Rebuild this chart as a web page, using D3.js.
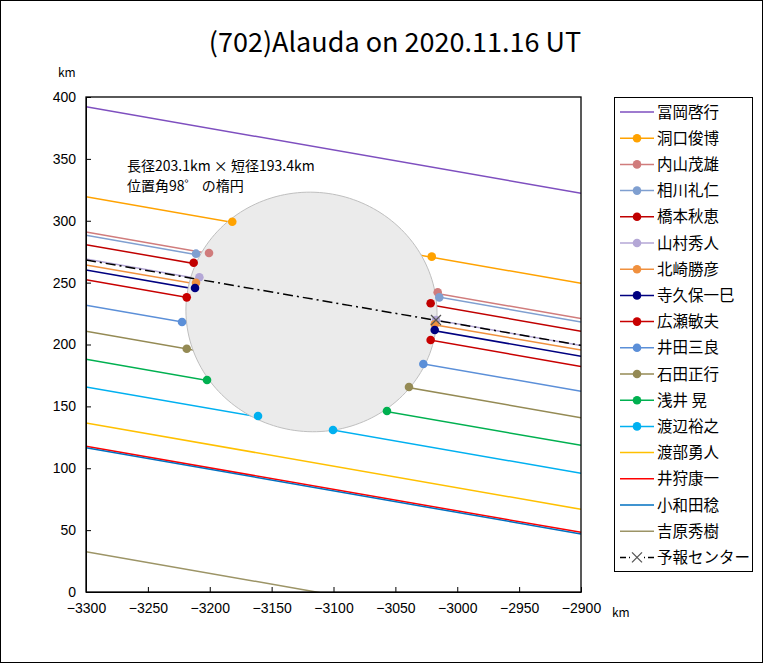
<!DOCTYPE html>
<html><head><meta charset="utf-8">
<script src="https://cdn.jsdelivr.net/npm/d3@7"></script>
<style>
body{margin:0;background:#fff;}
svg{display:block;}
text{font-family:"Noto Sans CJK JP","Noto Sans",sans-serif;fill:#000;}
</style>
</head><body>
<svg id="c" width="763" height="663"></svg>
<script>
// ---- data ----
const title = "(702)Alauda on 2020.11.16 UT";
const xTicks = [-3300,-3250,-3200,-3150,-3100,-3050,-3000,-2950,-2900];
const yTicks = [0,50,100,150,200,250,300,350,400];
const observers = ["冨岡啓行","洞口俊博","内山茂雄","相川礼仁","橋本秋恵","山村秀人","北崎勝彦","寺久保一巳","広瀬敏夫","井田三良","石田正行","浅井 晃","渡辺裕之","渡部勇人","井狩康一","小和田稔","吉原秀樹"];
const colors = ["#7E4FBF","#FFA200","#D07C7C","#7F9FD0","#C00000","#B4A7D6","#F0903E","#000080","#C80000","#5B8FD8","#948A54","#00B050","#00B0F0","#FFC000","#FF0000","#0070C0","#9C9466"];
// chord line y (km) at x = -3300 and at x = -2900
const yAtLeft  = [392.2,319.4,290.9,288.2,280.7,269.1,264.2,260.2,252.4,231.7,210.7,188.0,165.7,136.6,117.7,116.6,32.6];
const yAtRight = [322.2,249.4,220.9,218.2,210.7,199.2,195.6,190.5,182.2,162.2,140.8,118.5,95.9,66.8,48.2,46.9,-37.5];
// disappearance / reappearance points (km), null = miss
const disappear = [null,[-3181.8,299.2],[-3200.6,273.9],[-3211.1,273.4],[-3213.0,266.1],[-3208.4,254.3],[-3211.1,249.9],[-3211.9,245.7],[-3218.6,238.1],[-3222.4,218.2],[-3218.6,196.6],[-3202.2,171.3],[-3161.0,142.2],null,null,null,null];
const reappear  = [null,[-3020.6,271.0],[-3015.8,242.2],[-3014.5,238.1],[-3021.5,233.3],[-3017.2,219.8],[-3018.2,216.3],[-3018.2,211.7],[-3021.5,203.6],[-3027.4,184.2],[-3039.0,165.7],[-3056.8,146.3],[-3100.4,130.9],null,null,null,null];
// prediction centre line
const predName = "予報センター";
const predLine = [[-3300,268.3],[-2900,199.3]];
const predPoint = [-3017.2,219.8];
// fitted ellipse
const ellipseCenter = [-3117.8,226.3];
const majorAxis = 203.1, minorAxis = 193.4, posAngle = 98;
const note1 = "長径203.1km × 短径193.4km";
const note2 = "位置角98゜ の楕円";

// ---- chart ----
const svg = d3.select("#c");
const X0=86, X1=581, Y0=97, Y1=592;
const x = d3.scaleLinear().domain([-3300,-2900]).range([X0,X1]);
const y = d3.scaleLinear().domain([0,400]).range([Y1,Y0]);

svg.append("rect").attr("x",0.5).attr("y",0.5).attr("width",762).attr("height",662)
  .attr("fill","#fff").attr("stroke","#000");

svg.append("text").attr("x",395).attr("y",52).attr("text-anchor","middle")
  .style("font-size","27px").text(title);

svg.append("defs").append("clipPath").attr("id","clip")
  .append("rect").attr("x",X0).attr("y",Y0).attr("width",X1-X0).attr("height",Y1-Y0);

const plot = svg.append("g").attr("clip-path","url(#clip)");
const line = d3.line().x(d=>x(d[0])).y(d=>y(d[1]));

observers.forEach((n,i)=>{
  plot.append("path").datum([[-3300,yAtLeft[i]],[-2900,yAtRight[i]]])
    .attr("d",line).attr("fill","none").attr("stroke",colors[i]).attr("stroke-width",1.5);
});

// ellipse
const a = majorAxis/2, b = minorAxis/2, th = posAngle*Math.PI/180;
const ux = Math.sin(th), uy = Math.cos(th);   // major-axis direction (east, north)
const vx = -uy, vy = ux;
const ep = d3.range(0,361,2).map(t=>{
  const r=t*Math.PI/180, c=Math.cos(r)*a, s=Math.sin(r)*b;
  return [ellipseCenter[0]+c*ux+s*vx, ellipseCenter[1]+c*uy+s*vy];
});
plot.append("path").datum(ep).attr("d",d3.line().x(d=>x(d[0])).y(d=>y(d[1])).curve(d3.curveLinearClosed))
  .attr("fill","#EBEBEB").attr("stroke","#BFBFBF").attr("stroke-width",1);

// prediction line
plot.append("path").datum(predLine).attr("d",line)
  .attr("fill","none").attr("stroke","#000").attr("stroke-width",1.5)
  .attr("stroke-dasharray","10,4,2,4");

// dots
observers.forEach((n,i)=>{
  [disappear[i],reappear[i]].forEach(p=>{
    if(!p) return;
    plot.append("circle").attr("cx",x(p[0])).attr("cy",y(p[1])).attr("r",4.3)
      .attr("fill",colors[i]);
  });
});
// prediction marker
const drawX=(g,cx,cy,s)=>{
  g.append("path").attr("d",`M${cx-s},${cy-s}L${cx+s},${cy+s}M${cx-s},${cy+s}L${cx+s},${cy-s}`)
   .attr("stroke","#555").attr("stroke-width",1.3).attr("fill","none");
};
drawX(plot,x(predPoint[0]),y(predPoint[1]),5);

// axes
const gx = svg.append("g").attr("transform",`translate(0,${Y1})`)
  .call(d3.axisBottom(x).tickValues(xTicks).tickSizeInner(-5).tickSizeOuter(0).tickPadding(11).tickFormat(d3.format("d")));
const gy = svg.append("g").attr("transform",`translate(${X0},0)`)
  .call(d3.axisLeft(y).tickValues(yTicks).tickSizeInner(-5).tickSizeOuter(0).tickPadding(10).tickFormat(d3.format("d")));
[gx,gy].forEach(g=>{
  g.selectAll("text").style("font-size","14px").style("font-family","'Liberation Sans',Arial,sans-serif").attr("fill","#000");
  g.selectAll("line").attr("stroke","#000");
  g.select(".domain").attr("stroke","#000");
});
gx.selectAll("text").text(d=>String(d).replace("-","\u2212"));
// frame
svg.append("rect").attr("x",X0).attr("y",Y0).attr("width",X1-X0).attr("height",Y1-Y0)
  .attr("fill","none").attr("stroke","#000").attr("stroke-width",1.3);

svg.append("text").attr("x",58).attr("y",77).style("font-size","12px").text("km");
svg.append("text").attr("x",612).attr("y",617).style("font-size","12px").text("km");

// annotation
svg.append("text").attr("x",127).attr("y",171).style("font-size","14px").text(note1);
svg.append("text").attr("x",127).attr("y",191).style("font-size","14px").text(note2);

// legend
const lg = svg.append("g");
lg.append("rect").attr("x",614.5).attr("y",97.5).attr("width",138).attr("height",474)
  .attr("fill","#fff").attr("stroke","#000");
const rowY = i=>112+i*26.2;
observers.forEach((n,i)=>{
  const yy=rowY(i);
  lg.append("line").attr("x1",620).attr("x2",654).attr("y1",yy).attr("y2",yy)
    .attr("stroke",colors[i]).attr("stroke-width",1.5);
  if(disappear[i]) lg.append("circle").attr("cx",637).attr("cy",yy).attr("r",4.3).attr("fill",colors[i]);
  lg.append("text").attr("x",657).attr("y",yy+5.5).style("font-size","15.5px").text(n);
});
{
  const yy=rowY(observers.length);
  lg.append("line").attr("x1",620).attr("x2",654).attr("y1",yy).attr("y2",yy)
    .attr("stroke","#000").attr("stroke-width",1.5).attr("stroke-dasharray","6,3,2,3");
  lg.append("rect").attr("x",630).attr("y",yy-6).attr("width",14).attr("height",12).attr("fill","#fff");
  drawX(lg,637,yy,5);
  lg.append("text").attr("x",657).attr("y",yy+5.5).style("font-size","15.5px").text(predName);
}
</script>
</body></html>
